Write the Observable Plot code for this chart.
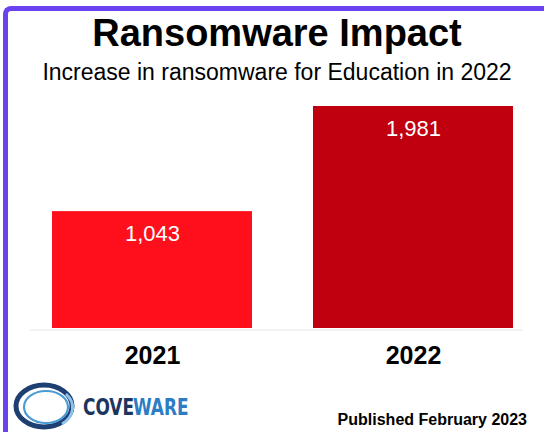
<!DOCTYPE html>
<html>
<head>
<meta charset="utf-8">
<script src="https://cdn.jsdelivr.net/npm/d3@7"></script>
<script src="https://cdn.jsdelivr.net/npm/@observablehq/plot@0.6"></script>
<style>
  html, body { margin: 0; padding: 0; background: #fff; }
  #wrap { position: relative; width: 544px; height: 432px; overflow: hidden; background: #fff;
          font-family: "Liberation Sans", Arial, Helvetica, sans-serif; color: #000; }
  #frame { position: absolute; left: 3px; top: 6px; width: 600px; height: 500px;
           border-left: 5px solid #6a42f2; border-top: 5px solid #6a42f2; border-top-left-radius: 8px; }
  #title { position: absolute; left: 10px; right: 0; top: 15px; text-align: center;
           font-size: 38px; line-height: 37px; font-weight: bold; }
  #subtitle { position: absolute; left: 10px; right: 0; top: 61px; text-align: center;
              font-size: 23px; line-height: 23px; }
  #chart { position: absolute; left: 0; top: 92px; }
  #pub { position: absolute; right: 17px; top: 412px; font-size: 16px; line-height: 16px; font-weight: bold; }
  #logo { position: absolute; left: 0; top: 380px; }
</style>
</head>
<body>
<div id="wrap">
  <div id="frame"></div>
  <div id="title">Ransomware Impact</div>
  <div id="subtitle">Increase in ransomware for Education in 2022</div>
  <div id="chart"></div>
  <svg id="logo" width="230" height="52" viewBox="0 0 230 52">
    <ellipse cx="44" cy="26" rx="28" ry="21" fill="none" stroke="#1d3f72" stroke-width="5"/>
    <ellipse cx="46" cy="27" rx="22" ry="16" fill="none" stroke="#4a9ad6" stroke-width="2.2"/>
    <path d="M 66 14 A 28 21 0 0 1 62 44" fill="none" stroke="#8fc3ea" stroke-width="3"/>
    <g transform="translate(83,35) scale(0.82,1)">
      <text x="0" y="0" font-family="DejaVu Sans Condensed, DejaVu Sans, sans-serif" font-weight="bold"
            font-size="23" fill="#1c355e">COVE</text>
    </g>
    <g transform="translate(133,35) scale(0.82,1)">
      <text x="0" y="0" font-family="DejaVu Sans Condensed, DejaVu Sans, sans-serif" font-weight="bold"
            font-size="23" fill="#2d7cc4">WARE</text>
    </g>
  </svg>
  <div id="pub">Published February 2023</div>
</div>
<script>
const years = ["2021", "2022"];
const counts = [1043, 1981];
const barColors = ["#fe0f1b", "#c0000f"];

const data = years.map((y, i) => ({ year: y, count: counts[i], color: barColors[i] }));
const fmt = d3.format(",");

const chart = Plot.plot({
  width: 544,
  height: 290,
  marginTop: 14,
  marginBottom: 54,
  marginLeft: 52,
  marginRight: 31,
  x: { domain: years, paddingInner: 0.234, paddingOuter: 0, label: null, axis: null },
  y: { domain: [0, 1981], axis: null },
  color: { type: "identity" },
  style: { fontFamily: "Liberation Sans, Arial, sans-serif", background: "transparent", overflow: "visible", color: "#000" },
  marks: [
    Plot.ruleY([0], { stroke: "#e8e8e8", strokeWidth: 1, dy: 1.5, insetLeft: -22, insetRight: -10 }),
    Plot.barY(data, { x: "year", y: "count", fill: "color" }),
    Plot.text(data, { x: "year", y: "count", text: d => fmt(d.count), fill: "white", fontSize: 22, lineAnchor: "top", dy: 14 }),
    Plot.axisX({ tickSize: 0, tickPadding: 18, fontSize: 25, fontWeight: "bold", fill: "#000", label: null })
  ]
});
document.getElementById("chart").appendChild(chart);
</script>
</body>
</html>
